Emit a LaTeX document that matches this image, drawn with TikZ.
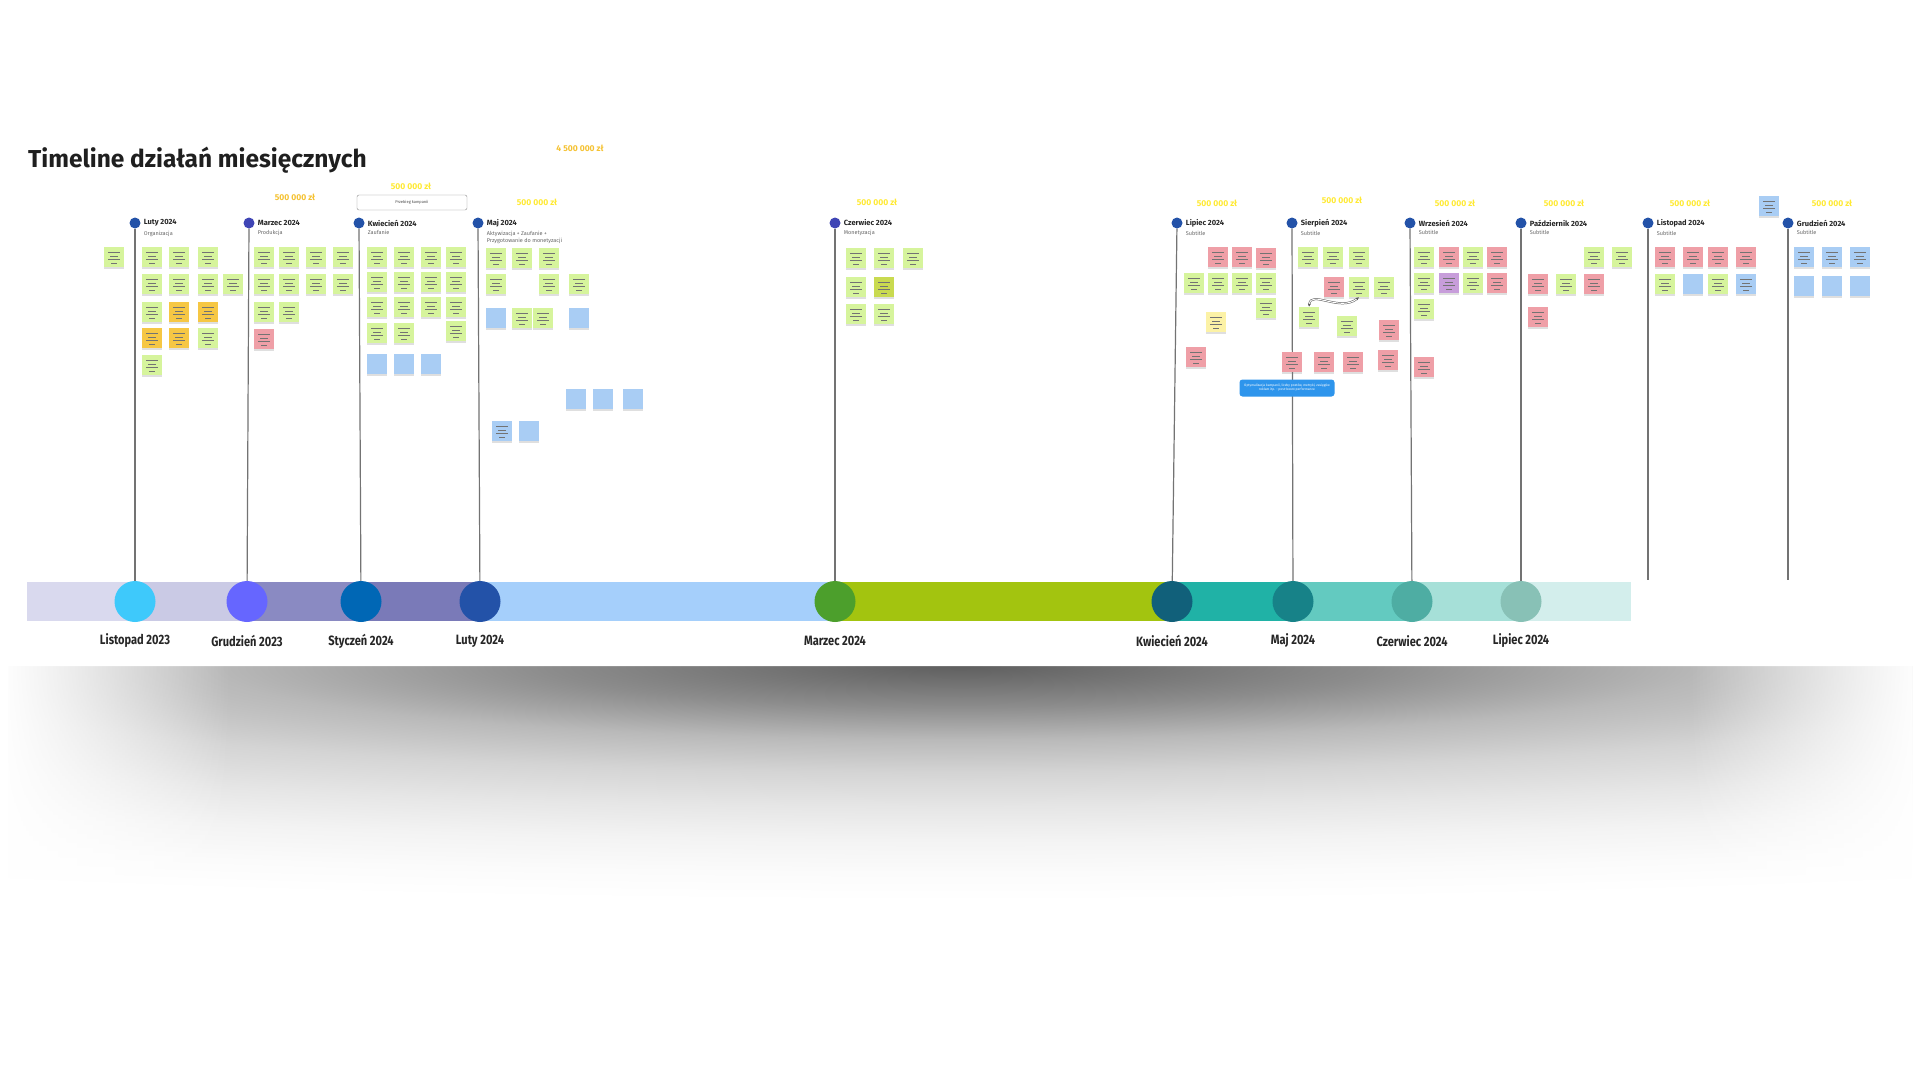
\documentclass[tikz,border=0pt]{standalone}
\usepackage{fontspec}
\setmainfont{Fira Sans}
\newfontfamily\condfont[FakeStretch=0.82]{Fira Sans}
\usetikzlibrary{positioning,shadows,arrows.meta,fadings}

\definecolor{sh0}{HTML}{5F5F5F}
\definecolor{sh1}{HTML}{8C8C8C}
\definecolor{sh2}{HTML}{B9B9B9}
\definecolor{sh3}{HTML}{D4D4D4}
\definecolor{sh4}{HTML}{E6E6E6}
\definecolor{sh5}{HTML}{F3F3F3}
\definecolor{sh6}{HTML}{FBFBFB}
\pgfdeclareradialshading{cardshadow}{\pgfpoint{0bp}{0bp}}{color(0bp)=(sh0); color(4.3bp)=(sh1); color(7.8bp)=(sh2); color(11.3bp)=(sh3); color(15bp)=(sh4); color(18.5bp)=(sh5); color(22bp)=(sh6); color(25bp)=(white); color(50bp)=(white)}
\tikzfading[name=fadeout right, left color=transparent!0, right color=transparent!100]
\tikzfading[name=fadeout left, left color=transparent!100, right color=transparent!0]

\definecolor{ngreen}{HTML}{D6F49C}
\definecolor{norange}{HTML}{F6C744}
\definecolor{nred}{HTML}{EF9FA7}
\definecolor{nblue}{HTML}{A9CDF4}
\definecolor{npurple}{HTML}{C79DDA}
\definecolor{nyellow}{HTML}{FCF2A6}
\definecolor{nolive}{HTML}{C9DA50}
\definecolor{dotblue}{HTML}{2352A8}
\definecolor{dotind}{HTML}{3F45B5}
\definecolor{amtyellow}{HTML}{FFEA33}
\definecolor{amtgold}{HTML}{F5C232}
\definecolor{infoblue}{HTML}{2E95EC}
\definecolor{cA}{HTML}{3EC9FB}
\definecolor{cB}{HTML}{6666FF}
\definecolor{cC}{HTML}{0067B5}
\definecolor{cD}{HTML}{2352A8}
\definecolor{cE}{HTML}{4C9F2C}
\definecolor{cF}{HTML}{11607A}
\definecolor{cG}{HTML}{178288}
\definecolor{cH}{HTML}{4EADA3}
\definecolor{cI}{HTML}{88C1B6}

\begin{document}
\begin{tikzpicture}[x=1pt, y=-1pt,
    note/.style={rectangle, minimum size=20pt, inner sep=0pt,
        drop shadow={shadow xshift=0.4pt, shadow yshift=-1.6pt, opacity=0.25}},
    lined/.style={path picture={
        \foreach \w [count=\k] in {12,8,12,6}
            \draw[black!55, line width=0.9pt]
                ([shift={({-\w*0.5pt},{-(2.5+3.4*\k)*1pt})}]path picture bounding box.north) -- ++(\w pt,0pt);}},
    dot/.style={circle, minimum size=11pt, inner sep=0pt},
    bigdot/.style={circle, minimum size=41pt, inner sep=0pt},
    mlabel/.style={font=\bfseries\fontsize{7.5}{9}\selectfont, text=black!85, inner sep=0pt},
    sublabel/.style={font=\fontsize{5.5}{6.5}\selectfont, text=black!60, inner sep=0pt, align=left},
    blabel/.style={font=\condfont\bfseries\fontsize{13.5}{15}\selectfont, text=black!85},
    amt/.style={font=\bfseries\fontsize{8.5}{10}\selectfont, text=amtyellow},
    vline/.style={draw=black!55, line width=1.2pt},
    link/.style={{Latex[length=3pt,width=3pt]}-{Latex[length=3pt,width=3pt]}, draw=black!65, double=white, double distance=1pt, line width=0.5pt}
]
    \useasboundingbox (0,0) rectangle (1920,1080);

    \begin{scope}
        \clip (8,666) rectangle (1912,1080);
        \shade[shading=cardshadow] (960,666) ellipse [x radius=2400pt, y radius=235pt];
        \fill[white, path fading=fadeout right] (0,660) rectangle (230,1080);
        \fill[white, path fading=fadeout left] (1690,660) rectangle (1920,1080);
    \end{scope}
    \fill[white, rounded corners=12pt] (6,-30) rectangle (1914,666);

    \node[anchor=west, inner sep=0pt, font=\bfseries\fontsize{24.5}{29}\selectfont, text=black!88] (title) at (28,160) {Timeline działań miesięcznych};

    \foreach \a/\b/\c in {27/135/D9D9EE, 135/247/CACAE5, 247/361/8A8AC2, 361/480/7A7AB8, 480/835/A5CFFB, 835/1172/A3C40F, 1172/1293/20B2A6, 1293/1412/63CAC0, 1412/1521/A6E0D8, 1521/1631/D3EEEC} {
        \definecolor{seg}{HTML}{\c}
        \fill[seg] (\a,582) rectangle (\b,621);
    }

    \foreach \n/\x/\c/\lab in {1/135/cA/Listopad 2023, 2/247/cB/Grudzień 2023, 3/361/cC/Styczeń 2024, 4/480/cD/Luty 2024, 5/835/cE/Marzec 2024, 6/1172/cF/Kwiecień 2024, 7/1293/cG/Maj 2024, 8/1412/cH/Czerwiec 2024, 9/1521/cI/Lipiec 2024} {
        \node[bigdot, fill=\c] (b\n) at (\x,601.5) {};
        \node[blabel] (bl\n) at (\x,641) {\lab};
    }

    \foreach \n/\x/\c/\lab/\sub in {1/135/dotblue/Luty 2024/Organizacja, 2/249/dotind/Marzec 2024/Produkcja, 3/359/dotblue/Kwiecień 2024/Zaufanie, 4/478/dotblue/Maj 2024/{Aktywizacja + Zaufanie +\\Przygotowanie do monetyzacji}, 5/835/dotind/Czerwiec 2024/Monetyzacja, 6/1177/dotblue/Lipiec 2024/Subtitle, 7/1292/dotblue/Sierpień 2024/Subtitle, 8/1410/dotblue/Wrzesień 2024/Subtitle, 9/1521/dotblue/Październik 2024/Subtitle, 10/1648/dotblue/Listopad 2024/Subtitle, 11/1788/dotblue/Grudzień 2024/Subtitle} {
        \node[dot, fill=\c] (t\n) at (\x,223) {};
        \node[mlabel, right=3pt of t\n] (l\n) {\lab};
        \node[sublabel, below=4pt of l\n.south west, anchor=north west] (s\n) {\sub};
    }

    \coordinate (e10) at (1648,580);
    \coordinate (e11) at (1788,580);
    \foreach \n in {1,...,9}
        \draw[vline] (t\n) -- (b\n);
    \draw[vline] (t10) -- (e10);
    \draw[vline] (t11) -- (e11);

    \foreach \x/\y/\lab [count=\i] in {295/197/500 000 zł, 411/186/500 000 zł, 580/148/4 500 000 zł, 537/202/500 000 zł, 877/202/500 000 zł, 1217/203/500 000 zł, 1342/200/500 000 zł, 1455/203/500 000 zł, 1564/203/500 000 zł, 1690/203/500 000 zł, 1832/203/500 000 zł}
        \node[amt] (amt\i) at (\x,\y) {\lab};
    \node[amt, text=amtgold, fill=white] at (amt1) {500 000 zł};
    \node[amt, text=amtgold, fill=white] at (amt3) {4 500 000 zł};

    \node[draw=black!45, fill=white, rounded corners=2pt, minimum width=110pt, minimum height=15pt, inner sep=0pt, font=\fontsize{4}{5}\selectfont, text=black!70] (plan) at (412,202.5) {Przebieg kampanii};

    \foreach \x/\y/\c [count=\i] in {114/257/ngreen, 152/257/ngreen, 179/257/ngreen, 208/257/ngreen,
        152/284/ngreen, 179/284/ngreen, 208/284/ngreen, 233/284/ngreen,
        152/312/ngreen, 179/312/norange, 208/312/norange,
        152/338/norange, 179/338/norange, 208/338/ngreen, 152/365/ngreen,
        264/257/ngreen, 289/257/ngreen, 316/257/ngreen, 343/257/ngreen,
        264/284/ngreen, 289/284/ngreen, 316/284/ngreen, 343/284/ngreen,
        264/312/ngreen, 289/312/ngreen, 264/339/nred,
        377/257/ngreen, 404/257/ngreen, 431/257/ngreen, 456/257/ngreen,
        377/282/ngreen, 404/282/ngreen, 431/282/ngreen, 456/282/ngreen,
        377/307/ngreen, 404/307/ngreen, 431/307/ngreen, 456/307/ngreen,
        377/333/ngreen, 404/333/ngreen, 456/331/ngreen,
        496/258/ngreen, 522/258/ngreen, 549/258/ngreen,
        496/284/ngreen, 549/284/ngreen, 579/284/ngreen,
        522/318/ngreen, 543/318/ngreen, 502/431/nblue,
        856/258/ngreen, 884/258/ngreen, 913/258/ngreen,
        856/287/ngreen, 884/287/nolive, 856/314/ngreen, 884/314/ngreen,
        1218/257/nred, 1242/257/nred, 1266/258/nred,
        1194/283/ngreen, 1218/283/ngreen, 1242/283/ngreen, 1266/283/ngreen,
        1266/308/ngreen, 1216/322/nyellow, 1196/357/nred,
        1308/257/ngreen, 1333/257/ngreen, 1359/257/ngreen,
        1334/287/nred, 1384/287/ngreen, 1347/326/ngreen, 1389/330/nred,
        1292/362/nred, 1324/362/nred, 1353/362/nred, 1388/360/nred,
        1424/257/ngreen, 1449/257/nred, 1473/257/ngreen, 1497/257/nred,
        1424/283/ngreen, 1449/283/npurple, 1473/283/ngreen, 1497/283/nred,
        1424/309/ngreen, 1424/367/nred,
        1594/257/ngreen, 1622/257/ngreen,
        1538/284/nred, 1566/284/ngreen, 1594/284/nred, 1538/317/nred,
        1665/257/nred, 1693/257/nred, 1718/257/nred, 1746/257/nred,
        1665/284/ngreen, 1718/284/ngreen, 1746/284/nblue, 1769/206/nblue,
        1804/257/nblue, 1832/257/nblue, 1860/257/nblue}
        \node[note, lined, fill=\c] (n\i) at (\x,\y) {};

    \foreach \x/\y [count=\i] in {377/364, 404/364, 431/364, 496/318, 579/318, 576/399, 603/399, 633/399, 529/431, 1693/284, 1804/286, 1832/286, 1860/286}
        \node[note, fill=nblue] (e\i) at (\x,\y) {};

    \node[note, lined, fill=ngreen] (swap1) at (1309,317) {};
    \node[note, lined, fill=ngreen] (swap2) at (1359,287) {};
    \draw[link] (swap1.north) .. controls +(2,-17) and +(-19,15) .. (swap2.south);

    \node[fill=infoblue, rounded corners=3pt, minimum width=95pt, minimum height=17pt, inner sep=1pt, align=center, text=white, font=\fontsize{3.3}{4}\selectfont] (info) at (1287,388) {Optymalizacja kampanii, liczby postów, metryki, zasięgów\\reklam itp. - post-boost performance};
\end{tikzpicture}
\end{document}
